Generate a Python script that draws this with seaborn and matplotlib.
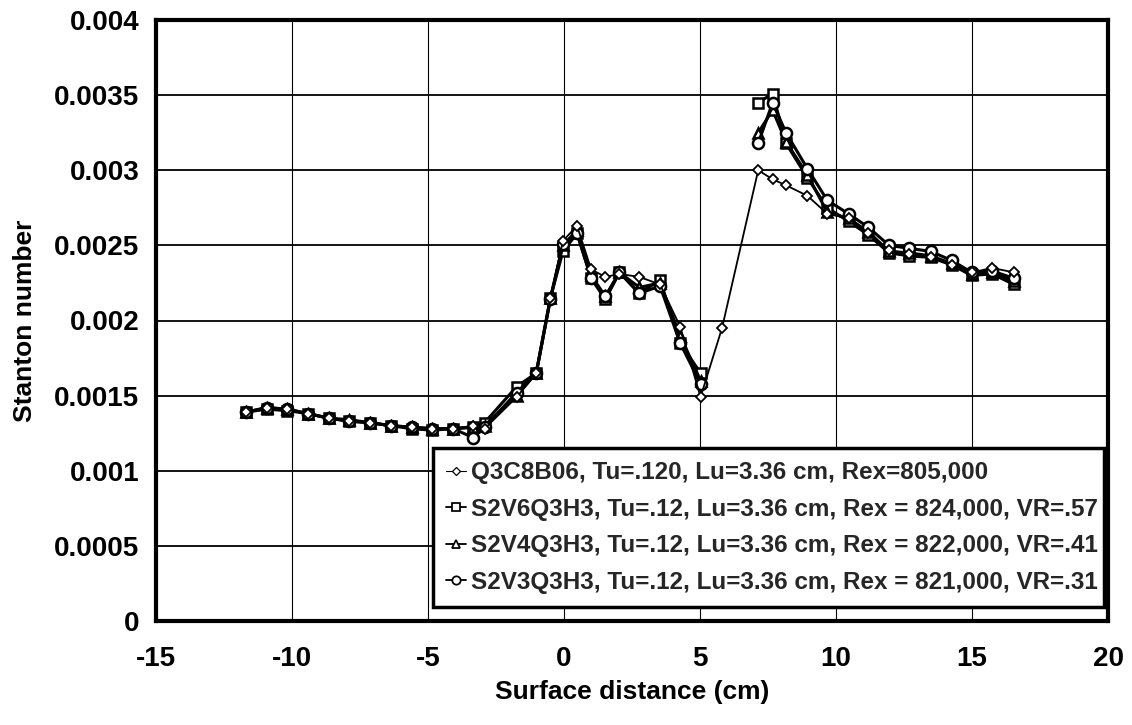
import numpy as np
import pandas as pd
import matplotlib
matplotlib.use("Agg")
import matplotlib.pyplot as plt
import matplotlib.font_manager as fm
from matplotlib.lines import Line2D
import seaborn as sns

# ---------------- data ----------------
x_s2v = [-11.7, -10.93, -10.17, -9.4, -8.65, -7.9, -7.14, -6.37, -5.6, -4.84, -4.08,
         -3.33, -2.92, -1.74, -1.02, -0.5, -0.04, 0.48, 1.0, 1.52, 2.04, 2.77, 3.53,
         4.27, 5.02, 7.14, 7.67, 8.16, 8.95, 9.68, 10.46, 11.19, 11.95, 12.7, 13.48,
         14.25, 14.99, 15.74, 16.54]
x_q3c = [-11.7, -10.93, -10.17, -9.4, -8.65, -7.9, -7.14, -6.37, -5.6, -4.84, -4.08,
         -3.33, -2.92, -1.74, -1.02, -0.5, -0.04, 0.48, 1.0, 1.52, 2.04, 2.77, 3.53,
         4.27, 5.02, 5.81, 7.14, 7.67, 8.16, 8.95, 9.68, 10.46, 11.19, 11.95, 12.7,
         13.48, 14.25, 14.99, 15.74, 16.54]

st_q3c8b06 = [0.00139, 0.00142, 0.00141, 0.00138, 0.00135, 0.00133, 0.00132, 0.00130,
              0.00129, 0.00128, 0.00128, 0.00130, 0.00128, 0.00149, 0.00165, 0.00215,
              0.00253, 0.00263, 0.00234, 0.00229, 0.00231, 0.00229, 0.00224, 0.00196,
              0.00149, 0.00195, 0.00300, 0.00294, 0.00290, 0.00283, 0.00271, 0.00268,
              0.00258, 0.00247, 0.00244, 0.00242, 0.00237, 0.00232, 0.00235, 0.00232]
st_s2v6 = [0.00139, 0.00141, 0.00140, 0.00138, 0.00135, 0.00133, 0.00132, 0.00130,
           0.00128, 0.00127, 0.00128, 0.00129, 0.00132, 0.00156, 0.00165, 0.00215,
           0.00246, 0.00258, 0.00228, 0.00214, 0.00232, 0.00218, 0.00227, 0.00185,
           0.00165, 0.00345, 0.00351, 0.00318, 0.00295, 0.00275, 0.00266, 0.00257,
           0.00245, 0.00243, 0.00242, 0.00237, 0.00230, 0.00231, 0.00224]
st_s2v4 = [0.00139, 0.00142, 0.00141, 0.00138, 0.00135, 0.00134, 0.00132, 0.00130,
           0.00129, 0.00128, 0.00128, 0.00129, 0.00130, 0.00150, 0.00165, 0.00215,
           0.00250, 0.00260, 0.00230, 0.00216, 0.00232, 0.00222, 0.00225, 0.00190,
           0.00160, 0.00325, 0.00340, 0.00319, 0.00297, 0.00272, 0.00268, 0.00259,
           0.00246, 0.00245, 0.00243, 0.00238, 0.00231, 0.00232, 0.00226]
st_s2v3 = [0.00139, 0.00142, 0.00141, 0.00138, 0.00135, 0.00133, 0.00132, 0.00130,
           0.00129, 0.00128, 0.00128, 0.00122, 0.00129, 0.00152, 0.00165, 0.00214,
           0.00251, 0.00258, 0.00228, 0.00216, 0.00232, 0.00218, 0.00223, 0.00185,
           0.00158, 0.00318, 0.00345, 0.00325, 0.00301, 0.00280, 0.00271, 0.00262,
           0.00250, 0.00248, 0.00246, 0.00240, 0.00232, 0.00233, 0.00228]

labels = ["Q3C8B06, Tu=.120, Lu=3.36 cm, Rex=805,000",
          "S2V6Q3H3, Tu=.12, Lu=3.36 cm, Rex = 824,000, VR=.57",
          "S2V4Q3H3, Tu=.12, Lu=3.36 cm, Rex = 822,000, VR=.41",
          "S2V3Q3H3, Tu=.12, Lu=3.36 cm, Rex = 821,000, VR=.31"]
x_ticks = [-15, -10, -5, 0, 5, 10, 15, 20]
y_ticks = [0, 0.0005, 0.001, 0.0015, 0.002, 0.0025, 0.003, 0.0035, 0.004]
y_tick_labels = ["0", "0.0005", "0.001", "0.0015", "0.002", "0.0025", "0.003", "0.0035", "0.004"]

# ---------------- fonts ----------------
names = {f.name for f in fm.fontManager.ttflist}
font = "Liberation Sans" if "Liberation Sans" in names else "DejaVu Sans"

sns.set_theme(style="white")
plt.rcParams["font.family"] = [font, "DejaVu Sans"]

# ---------------- frame ----------------
rows = []
def add(series, xs, ys, gap_after=None):
    seg = 0
    for xv, yv in zip(xs, ys):
        rows.append(dict(series=series, x=xv, st=yv, seg=seg))
        if gap_after is not None and xv == gap_after:
            seg = 1
add(labels[0], x_q3c, st_q3c8b06)
add(labels[1], x_s2v, st_s2v6, gap_after=5.02)
add(labels[2], x_s2v, st_s2v4, gap_after=5.02)
add(labels[3], x_s2v, st_s2v3, gap_after=5.02)
df = pd.DataFrame(rows)

fig = plt.figure(figsize=(11.32, 7.25), dpi=100)
ax = fig.add_axes([156 / 1132, 1 - 621 / 725, (1108 - 156) / 1132, 601 / 725])

styles = {
    labels[0]: dict(marker="D", ms=5.5, lw=1.3, mew=1.3),
    labels[1]: dict(marker="s", ms=7.5, lw=2.2, mew=1.8),
    labels[2]: dict(marker="^", ms=7.5, lw=2.2, mew=1.8),
    labels[3]: dict(marker="o", ms=8, lw=2.2, mew=1.8),
}
order = [labels[1], labels[2], labels[3], labels[0]]
for i, lab in enumerate(order):
    sub = df[df.series == lab]
    st = styles[lab]
    sns.lineplot(data=sub, x="x", y="st", units="seg", estimator=None, sort=False,
                 ax=ax, color="black", lw=st["lw"], marker=st["marker"],
                 markersize=st["ms"], markerfacecolor="white",
                 markeredgecolor="black", markeredgewidth=st["mew"],
                 legend=False, zorder=3 + i)

ax.set_xlim(-15, 20)
ax.set_ylim(0, 0.004)
ax.set_xticks(x_ticks)
ax.set_xticklabels([str(t) for t in x_ticks])
ax.set_yticks(y_ticks)
ax.set_yticklabels(y_tick_labels)
ax.xaxis.grid(True, color="black", lw=0.8)
ax.yaxis.grid(True, color="black", lw=1.3)
ax.set_axisbelow(True)
for s in ax.spines.values():
    s.set_visible(True)
    s.set_color("black")
    s.set_linewidth(3)
ax.tick_params(axis="both", direction="in", length=5, width=1.2, color="black",
               labelsize=20)
ax.tick_params(axis="x", pad=18)
ax.tick_params(axis="y", pad=12)
for t in ax.get_xticklabels() + ax.get_yticklabels():
    t.set_fontweight("bold")
    t.set_color("black")

ax.set_xlabel("Surface distance (cm)", fontsize=19, fontweight="bold",
              color="black", labelpad=6)
ax.set_ylabel("Stanton number", fontsize=19, fontweight="bold",
              color="black", labelpad=12)

handles = [Line2D([], [], color="black", lw=styles[l]["lw"] * 0.6, marker=styles[l]["marker"],
                  ms=styles[l]["ms"] * 0.75, mfc="white", mec="black",
                  mew=styles[l]["mew"] * 0.7) for l in labels]
leg = ax.legend(handles, labels, loc="center left",
                bbox_to_anchor=((433 - 156) / 952, (621 - 612) / 601,
                                (1104 - 433) / 952, (612 - 443) / 601),
                mode="expand", frameon=True, fancybox=False, framealpha=1,
                edgecolor="black", handlelength=0.8, handletextpad=0.2,
                borderpad=0.55, labelspacing=0.55, borderaxespad=0,
                prop=dict(family=[font, "DejaVu Sans"], weight="bold", size=17.5))
leg.get_frame().set_linewidth(2.5)
leg.set_zorder(20)

fig.savefig("out.png", dpi=100, facecolor="white")
